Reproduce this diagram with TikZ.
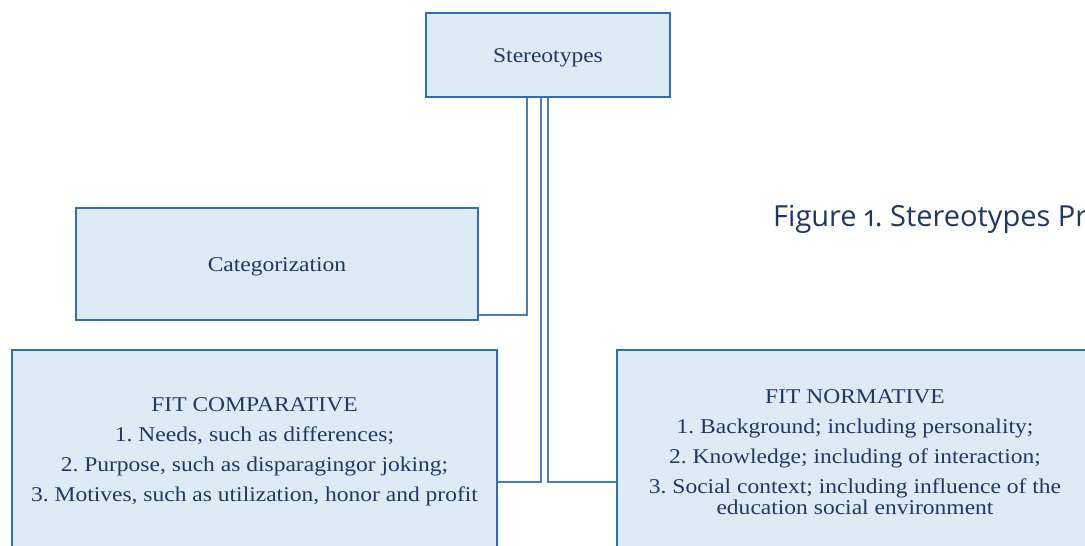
\documentclass[tikz,border=0pt]{standalone}
\usepackage{fontspec}
\setmainfont[FakeStretch=1.12]{Liberation Serif}
\newfontfamily\capfont[Numbers=OldStyle]{Open Sans}
\definecolor{boxfill}{HTML}{DEEAF6}
\definecolor{boxline}{HTML}{2E70B2}
\definecolor{conline}{HTML}{4A7DB8}
\definecolor{navy}{HTML}{1F3864}
\begin{document}
\frenchspacing
\begin{tikzpicture}[x=1pt,y=-1pt,
  box/.style={draw=boxline,fill=boxfill,line width=2pt,inner sep=0pt,
    text=navy,font=\frenchspacing\fontsize{21}{21}\selectfont,align=center},
  onebox/.style={box,text height=16pt,text depth=2pt},
  link/.style={draw=conline,line width=2pt}]
\useasboundingbox (0,0) rectangle (1085,546);
\clip (0,0) rectangle (1085,546);
\node[onebox,minimum width=244pt,minimum height=84pt] (st) at (548,55) {Stereotypes};
\node[onebox,minimum width=402pt,minimum height=112pt] (cat) at (277,264) {Categorization};
\node[box,minimum width=485pt,minimum height=204pt] (comp) at (254.5,452)
  {FIT COMPARATIVE\\[9pt]1. Needs, such as differences;\\[9pt]2. Purpose, such as disparagingor joking;\\[9pt]3. Motives, such as utilization, honor and profit};
\node[box,minimum width=476pt,minimum height=204pt] (norm) at (855,452)
  {FIT NORMATIVE\\[9pt]1. Background; including personality;\\[9pt]2. Knowledge; including of interaction;\\[9pt]3. Social context; including influence of the\\education social environment};
\node[anchor=base west,text=navy,font=\capfont\fontsize{29}{32}\selectfont,inner sep=0pt] (cap) at (773,226) {Figure 1. Stereotypes Pr};
\draw[link] ([xshift=-21pt]st.south) |- ([yshift=6pt]cat.south east);
\draw[link] ([xshift=-7pt]st.south) |- ([yshift=-30pt]comp.east);
\draw[link] (st.south) |- ([yshift=-30pt]norm.west);
\end{tikzpicture}
\end{document}
